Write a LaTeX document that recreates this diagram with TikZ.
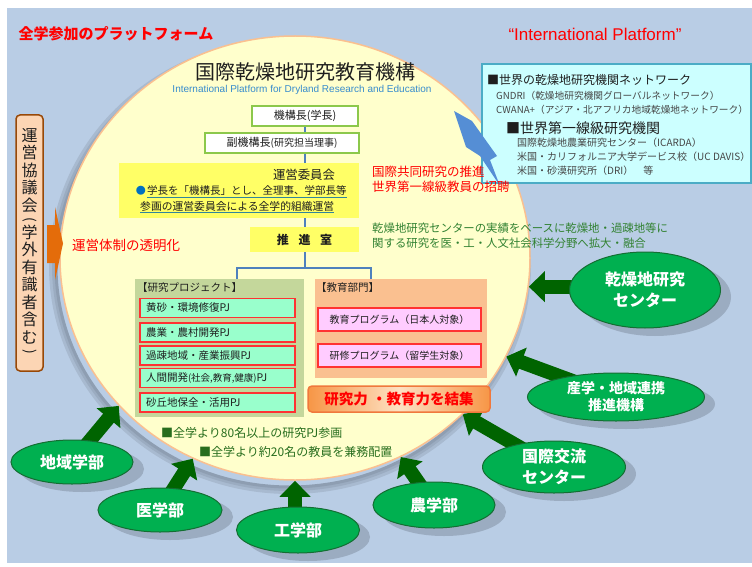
\documentclass[tikz,border=0pt]{standalone}
\usepackage{fontspec}
\usepackage{graphicx}
\setmainfont{Noto Sans CJK JP}
\newfontfamily\arial{Liberation Sans}
\usetikzlibrary{arrows.meta,calc,shapes.geometric}
\pgfdeclarelayer{back}
\pgfdeclarelayer{mid}
\pgfsetlayers{back,mid,main}
\definecolor{bgblue}{RGB}{185,205,229}
\definecolor{platf}{RGB}{255,255,204}
\definecolor{platb}{RGB}{250,192,144}
\definecolor{redc}{RGB}{255,0,0}
\definecolor{tcol}{RGB}{30,30,30}
\definecolor{subblue}{RGB}{55,140,205}
\definecolor{greenb}{RGB}{140,200,75}
\definecolor{yellowb}{RGB}{255,255,102}
\definecolor{pjbg}{RGB}{196,215,155}
\definecolor{pjfill}{RGB}{153,255,204}
\definecolor{redb}{RGB}{255,50,50}
\definecolor{edubg}{RGB}{250,192,144}
\definecolor{edufill}{RGB}{255,204,255}
\definecolor{cyanf}{RGB}{204,255,255}
\definecolor{cyanb}{RGB}{75,172,198}
\definecolor{peach}{RGB}{252,213,180}
\definecolor{brownb}{RGB}{152,72,7}
\definecolor{orangea}{RGB}{228,108,10}
\definecolor{lightc}{RGB}{85,142,213}
\definecolor{ellg}{RGB}{0,176,80}
\definecolor{ellb}{RGB}{20,110,50}
\definecolor{arrg}{RGB}{0,100,0}
\definecolor{bluel}{RGB}{79,129,189}
\definecolor{gtext}{RGB}{50,130,50}
\definecolor{gdark}{RGB}{40,110,30}
\definecolor{greyt}{RGB}{70,70,70}
\definecolor{orangeg}{RGB}{247,150,70}
\definecolor{orangel}{RGB}{253,225,195}
\definecolor{orangeb}{RGB}{240,120,60}
\definecolor{ulc}{RGB}{49,133,156}
\definecolor{bulletc}{RGB}{0,112,192}
\definecolor{sh1}{RGB}{168,186,208}
\definecolor{sh2}{RGB}{155,172,193}
\definecolor{sh3}{RGB}{142,158,178}
\newcommand{\vparo}{\rotatebox[origin=c]{-90}{\fontsize{14}{14}\selectfont (}}
\newcommand{\vparc}{\rotatebox[origin=c]{-90}{\fontsize{14}{14}\selectfont )}}
\begin{document}
\begin{tikzpicture}[x=1pt,y=-1pt,
  txt/.style={inner sep=0pt, text=tcol},
  greenbox/.style={draw=greenb, line width=2pt, fill=white, minimum height=20pt, inner sep=0pt, text=tcol, font=\fontsize{11}{11}\selectfont},
  pjb/.style={draw=redb, line width=1.2pt, fill=pjfill, text width=143pt, inner xsep=6pt, inner ysep=0pt, minimum height=19pt, align=left, text=tcol, font=\fontsize{10.5}{11}\selectfont},
  edb/.style={draw=redb, line width=1.2pt, fill=edufill, minimum width=163pt, minimum height=23pt, inner sep=0pt, text=tcol, font=\fontsize{10}{11}\selectfont},
  ell/.style={ellipse, draw=ellb, line width=1pt, fill=ellg, inner sep=0pt, text=white, align=center,
    font=\bfseries\fontsize{16}{21}\selectfont},
  garrow/.style={draw=arrg, line width=14pt, -{Triangle[width=30pt,length=16pt]}},
  bline/.style={draw=bluel, line width=2pt}
]
\useasboundingbox (0,0) rectangle (752,567);

\begin{pgfonlayer}{back}
\fill[bgblue] (7,8) rectangle (752,563);
\draw[sh1, line width=6pt] (290,266) ellipse (238 and 225);
\draw[sh2, line width=4pt] (290,266) ellipse (236 and 223);
\draw[sh3, line width=3pt] (290,266) ellipse (234 and 221);
\node[ellipse, fill=platf, draw=platb, line width=1.5pt, minimum width=470pt, minimum height=444pt, inner sep=0pt] (plat) at (295,258) {};
\end{pgfonlayer}

% titles
\node[txt, text=redc, font=\fontsize{15}{15}\selectfont\bfseries] (zengaku) at (116,34) {全学参加のプラットフォーム};
\node[txt, text=redc, font=\arial\fontsize{17}{17}\selectfont] (intl) at (595,34) {“International Platform”};
\node[txt, font=\fontsize{20}{20}\selectfont] (title) at (305,72) {国際乾燥地研究教育機構};
\node[txt, text=subblue, font=\arial\fontsize{10}{10}\selectfont] (subtitle) at (302,90) {International Platform for Dryland Research and Education};

% network box
\node[draw=cyanb, line width=2pt, fill=cyanf, minimum width=269pt, minimum height=119pt, inner sep=0pt, anchor=north west] (netbox) at (481,63) {};
\node[txt, anchor=west, font=\fontsize{12}{12}\selectfont] (n1) at (487,80) {■世界の乾燥地研究機関ネットワーク};
\node[txt, anchor=west, text=greyt, font=\fontsize{9.7}{10}\selectfont] (n2) at (496,96) {GNDRI（乾燥地研究機関グローバルネットワーク）};
\node[txt, anchor=west, text=greyt, font=\fontsize{9.7}{10}\selectfont] (n3) at (496,110) {CWANA+（アジア・北アフリカ地域乾燥地ネットワーク）};
\node[txt, anchor=west, font=\fontsize{14}{14}\selectfont] (n4) at (506,128) {■世界第一線級研究機関};
\node[txt, anchor=west, text=greyt, font=\fontsize{10}{10}\selectfont] (n5) at (517,143) {国際乾燥地農業研究センター（ICARDA）};
\node[txt, anchor=west, text=greyt, font=\fontsize{10}{10}\selectfont] (n6) at (517,157) {米国・カリフォルニア大学デービス校（UC DAVIS）};
\node[txt, anchor=west, text=greyt, font=\fontsize{10}{10}\selectfont] (n7) at (517,171) {米国・砂漠研究所（DRI）　等};

% lightning
\fill[lightc] (454,111) -- (472,121) -- (497,156) -- (490,160) -- (500,186) -- (480,156) -- (466,147) -- cycle;

% left council box
\node[draw=brownb, line width=1.5pt, fill=peach, rounded corners=4pt, minimum width=27pt, minimum height=256pt, inner sep=0pt] (kyogikai) at (29.5,243) {};
\node[txt, align=center, font=\fontsize{16}{17.5}\selectfont] (kyogitext) at (29.5,242) {運\\営\\協\\議\\会\\[-5pt]\vparo\\[-3pt]学\\外\\有\\識\\者\\含\\む\\[-5pt]\vparc};
\fill[orangea] (47,225) -- (55,225) -- (55,207) -- (63,243.5) -- (55,280) -- (55,263) -- (47,263) -- cycle;
\node[txt, anchor=west, text=redc, font=\fontsize{13.5}{14}\selectfont] (toumei) at (72,245) {運営体制の透明化};

% chain
\node[greenbox, minimum width=106pt] (kikou) at (305,116) {機構長(学長)};
\node[greenbox, minimum width=154pt] (fuku) at (282,143) {副機構長{\fontsize{10}{10}\selectfont(研究担当理事)}};
\node[fill=yellowb, minimum width=240pt, minimum height=55pt, inner sep=0pt] (unei) at (239,190.5) {};
\node[txt, font=\fontsize{12.4}{12.4}\selectfont] (ueitit) at (304,175) {運営委員会};
\node[txt, text=bulletc, font=\fontsize{10}{10}\selectfont, anchor=east] (bullet) at (146,191) {●};
\node[txt, anchor=west, font=\fontsize{10.5}{10.5}\selectfont] (ul1) at (147,191) {学長を「機構長」とし、全理事、学部長等};
\node[txt, anchor=west, font=\fontsize{10.8}{10.8}\selectfont] (ul2) at (140,206) {参画の運営委員会による全学的組織運営};
\draw[ulc, line width=.8pt] ([yshift=-1pt]ul1.south west) -- ([yshift=-1pt]ul1.south east);
\draw[ulc, line width=.8pt] ([yshift=-1pt]ul2.south west) -- ([yshift=-1pt]ul2.south east);
\node[fill=yellowb, minimum width=109pt, minimum height=25pt, inner sep=0pt, text=tcol, font=\fontsize{12}{12}\selectfont\bfseries] (suishin) at (304.5,239.5) {推\hspace{0.8em}進\hspace{0.8em}室};

% red and green side texts
\node[txt, anchor=west, text=redc, font=\fontsize{12.5}{13}\selectfont] (kyodo) at (372,172) {国際共同研究の推進};
\node[txt, anchor=west, text=redc, font=\fontsize{12.5}{13}\selectfont] (shohei) at (372,187) {世界第一線級教員の招聘};
\node[txt, anchor=west, text=gtext, font=\fontsize{11.4}{12}\selectfont] (jisseki1) at (372,228) {乾燥地研究センターの実績をベースに乾燥地・過疎地等に};
\node[txt, anchor=west, text=gtext, font=\fontsize{11.4}{12}\selectfont] (jisseki2) at (372,243) {関する研究を医・工・人文社会科学分野へ拡大・融合};

% research projects
\node[fill=pjbg, minimum width=169pt, minimum height=138pt, inner sep=0pt, anchor=north west] (pjarea) at (135,279) {};
\node[txt, anchor=west, font=\fontsize{10.5}{11}\selectfont] (pjtitle) at (137,288) {【研究プロジェクト】};
\node[pjb] (pj1) at (217.5,308) {黄砂・環境修復PJ};
\node[pjb] (pj2) at (217.5,332.5) {農業・農村開発PJ};
\node[pjb] (pj3) at (217.5,355.5) {過疎地域・産業振興PJ};
\node[pjb] (pj4) at (217.5,378) {人間開発{\fontsize{9.5}{10}\selectfont(社会,教育,健康)}PJ};
\node[pjb] (pj5) at (217.5,402.5) {砂丘地保全・活用PJ};

% education
\node[fill=edubg, minimum width=172pt, minimum height=99pt, inner sep=0pt, anchor=north west] (eduarea) at (315,279) {};
\node[txt, anchor=west, font=\fontsize{10.5}{11}\selectfont] (edutitle) at (316,288) {【教育部門】};
\node[edb] (edu1) at (399.5,319.5) {教育プログラム（日本人対象）};
\node[edb] (edu2) at (399.5,355.5) {研修プログラム（留学生対象）};

\node[draw=orangeb, line width=1.5pt, rounded corners=4pt, left color=orangeg, right color=orangeg, middle color=orangel, minimum width=182pt, minimum height=26pt, inner sep=0pt, text=redc, font=\fontsize{14.5}{15}\selectfont\bfseries] (kesshu) at (399,399) {研究力\hspace{0.3em}・教育力を結集};

\node[txt, anchor=west, text=gdark, font=\fontsize{12}{12}\selectfont] (sanka) at (161,433) {■全学より80名以上の研究PJ参画};
\node[txt, anchor=west, text=gdark, font=\fontsize{12}{12}\selectfont] (kenmu) at (199,452) {■全学より約20名の教員を兼務配置};

% coordinates for tree
\coordinate (pjtop) at (237,279);
\coordinate (edutop) at (371,279);

% ellipse shadows (main layer, under the ellipses)
\fill[sh2] (82,469) ellipse (62 and 23);
\fill[sh2] (170,517) ellipse (63 and 23);
\fill[sh2] (308,537) ellipse (62 and 24);
\fill[sh2] (444,512) ellipse (62 and 24);
\fill[sh2] (564,474) ellipse (72 and 27);
\fill[sh2] (626,404) ellipse (89 and 25);
\fill[sh2] (655,297) ellipse (76 and 39);

% ellipses
\node[ell, minimum width=122pt, minimum height=44pt] (chiiki) at (72,462) {地域学部};
\node[ell, minimum width=124pt, minimum height=44pt] (igaku) at (160,510) {医学部};
\node[ell, minimum width=123pt, minimum height=46pt] (kougaku) at (298,530) {工学部};
\node[ell, minimum width=122pt, minimum height=46pt] (nougaku) at (434,505) {農学部};
\node[ell, minimum width=143pt, minimum height=52pt] (kokusai) at (554,467) {国際交流\\センター};
\node[ell, minimum width=177pt, minimum height=48pt, font=\bfseries\fontsize{14}{17}\selectfont] (sangaku) at (616,397) {産学・地域連携\\推進機構};
\node[ell, minimum width=151pt, minimum height=76pt] (kansou) at (645,290) {乾燥地研究\\センター};

\begin{pgfonlayer}{mid}
\draw[bline] (kikou.south) -- (kikou.south |- suishin.north);
\draw[bline] (suishin.south) -- (suishin.south |- 0,268);
\draw[bline] (pjtop) -- ++(0,-11) -| (edutop);
\draw[garrow] (chiiki.center) -- (plat.220);
\draw[garrow] (igaku.center) -- (plat.243);
\draw[garrow] (kougaku.center -| plat.south) -- (plat.south);
\draw[garrow] (nougaku.center) -- (plat.298);
\draw[garrow] (kokusai.center) -- (plat.317);
\draw[garrow] (sangaku.center) -- (plat.335);
\draw[garrow] (kansou.center |- plat.353) -- (plat.353);
\end{pgfonlayer}
\end{tikzpicture}
\end{document}
